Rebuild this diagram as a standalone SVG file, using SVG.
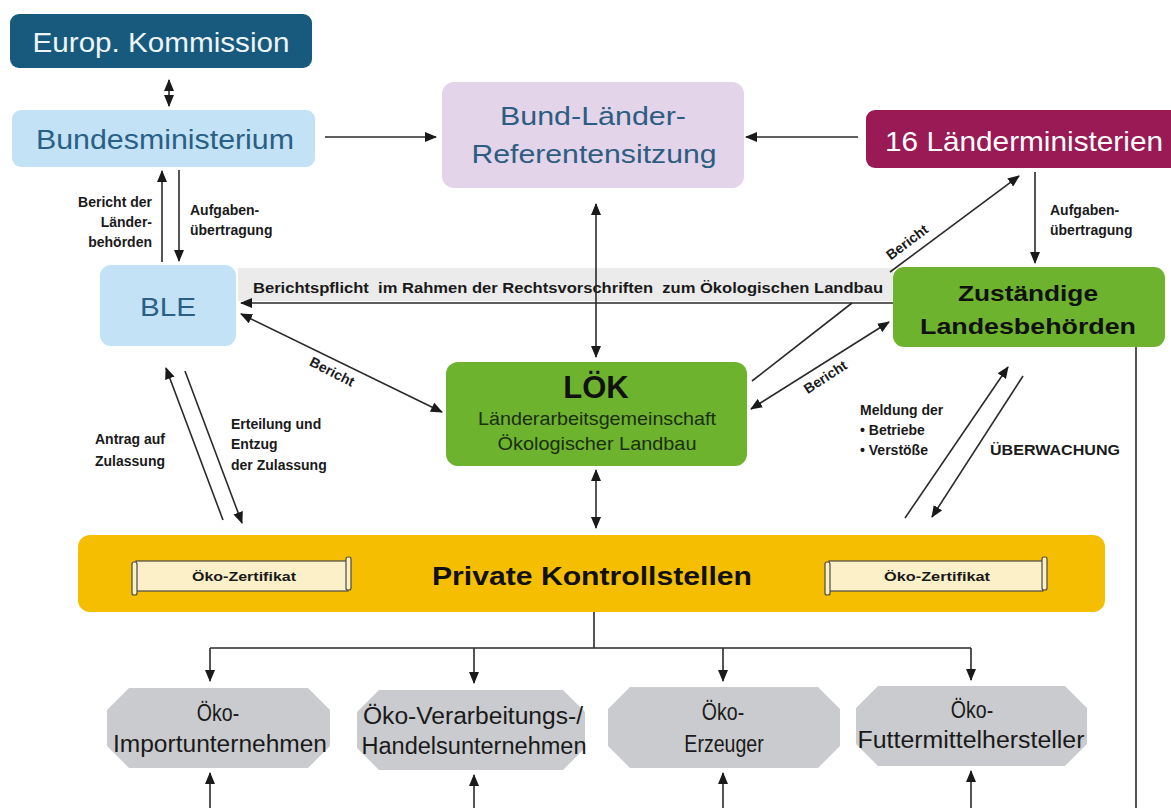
<svg xmlns="http://www.w3.org/2000/svg" width="1171" height="808" viewBox="0 0 1171 808">
<style>
text{font-family:"Liberation Sans",Arial,sans-serif}
.lbl{font-size:14px;font-weight:bold;fill:#1a1a1a}
.c{text-anchor:middle}
.ln{stroke:#2a2a2a;stroke-width:1.6;fill:none}
.hx{fill:#c9cbce}
.hxt{font-size:23px;fill:#1a1a1a;text-anchor:middle}
.sc{fill:#fbf0c8;stroke:#4a4a4a;stroke-width:1.2}
.sct{font-size:13px;font-weight:bold;fill:#1a1a1a;text-anchor:middle}
</style>
<defs>
<marker id="ah" markerUnits="userSpaceOnUse" markerWidth="12" markerHeight="10" refX="11" refY="5" orient="auto-start-reverse">
<path d="M0,0 L12,5 L0,10 z" fill="#1a1a1a"/>
</marker>
</defs>
<rect width="1171" height="808" fill="#ffffff"/>

<g id="band-berichtspflicht">
<rect x="238" y="268" width="655" height="33" fill="#ebebeb"/>
<text class="lbl" x="253" y="293" textLength="630" lengthAdjust="spacingAndGlyphs">Berichtspflicht&#160; im Rahmen der Rechtsvorschriften&#160; zum Ökologischen Landbau</text>
</g>

<g id="europ-kommission">
<rect x="10" y="14" width="302" height="54" rx="9" fill="#175a7d"/>
<text x="161" y="52" class="c" font-size="27" fill="#eef4f8" textLength="257" lengthAdjust="spacingAndGlyphs">Europ. Kommission</text>
</g>

<g id="bundesministerium">
<rect x="12" y="110" width="303" height="57" rx="9" fill="#c4e2f5"/>
<text x="165" y="149" class="c" font-size="27" fill="#2a5f86" textLength="258" lengthAdjust="spacingAndGlyphs">Bundesministerium</text>
</g>

<g id="bund-laender">
<rect x="442" y="82" width="302" height="106" rx="12" fill="#e4d4e9"/>
<text x="593" y="125" class="c" font-size="26" fill="#2d5d82" textLength="186" lengthAdjust="spacingAndGlyphs">Bund-Länder-</text>
<text x="594" y="163" class="c" font-size="26" fill="#2d5d82" textLength="245" lengthAdjust="spacingAndGlyphs">Referentensitzung</text>
</g>

<g id="laenderministerien">
<rect x="866" y="110" width="315" height="58" rx="9" fill="#991a54"/>
<text x="885" y="151" font-size="28" fill="#ffffff" textLength="278" lengthAdjust="spacingAndGlyphs">16 Länderministerien</text>
</g>

<g id="ble">
<rect x="100" y="265" width="136" height="81" rx="11" fill="#c4e2f5"/>
<text x="168" y="316" class="c" font-size="26" fill="#2a5f86" textLength="56" lengthAdjust="spacingAndGlyphs">BLE</text>
</g>

<g id="loek">
<rect x="446" y="362" width="301" height="104" rx="12" fill="#6db32e"/>
<text x="596" y="398" class="c" font-size="31" font-weight="bold" fill="#111">LÖK</text>
<text x="597" y="425" class="c" font-size="19" fill="#1b2e0c" textLength="238" lengthAdjust="spacingAndGlyphs">Länderarbeitsgemeinschaft</text>
<text x="597" y="450" class="c" font-size="19" fill="#1b2e0c" textLength="199" lengthAdjust="spacingAndGlyphs">Ökologischer Landbau</text>
</g>

<g id="landesbehoerden">
<rect x="893" y="267" width="272" height="80" rx="11" fill="#6db32e"/>
<text x="1028" y="301" class="c" font-size="22" font-weight="bold" fill="#111" textLength="140" lengthAdjust="spacingAndGlyphs">Zuständige</text>
<text x="1028" y="334" class="c" font-size="22" font-weight="bold" fill="#111" textLength="216" lengthAdjust="spacingAndGlyphs">Landesbehörden</text>
</g>

<g id="private-kontrollstellen">
<rect x="78" y="535" width="1027" height="77" rx="12" fill="#f6be00"/>
<text x="592" y="585" class="c" font-size="25" font-weight="bold" fill="#111" textLength="320" lengthAdjust="spacingAndGlyphs">Private Kontrollstellen</text>
<g id="zertifikat-links">
<rect class="sc" x="136" y="561" width="212" height="30"/>
<rect class="sc" x="132" y="562" width="5" height="33" rx="2"/>
<rect class="sc" x="346" y="557" width="5" height="33" rx="2"/>
<text class="sct" x="244" y="581" textLength="104" lengthAdjust="spacingAndGlyphs">Öko-Zertifikat</text>
</g>
<g id="zertifikat-rechts">
<rect class="sc" x="829" y="561" width="214" height="30"/>
<rect class="sc" x="825" y="562" width="5" height="33" rx="2"/>
<rect class="sc" x="1042" y="557" width="5" height="33" rx="2"/>
<text class="sct" x="937" y="581" textLength="106" lengthAdjust="spacingAndGlyphs">Öko-Zertifikat</text>
</g>
</g>

<g id="import">
<polygon class="hx" points="129,688 308,688 330,710 330,746 308,768 129,768 107,746 107,710"/>
<text class="hxt" transform="translate(218,721) scale(0.85,1)">Öko-</text>
<text class="hxt" x="220" y="752" textLength="214" lengthAdjust="spacingAndGlyphs">Importunternehmen</text>
</g>
<g id="verarbeitung">
<polygon class="hx" points="379,690 563,690 585,712 585,748 563,770 379,770 357,748 357,712"/>
<text class="hxt" x="473" y="724" textLength="220" lengthAdjust="spacingAndGlyphs">Öko-Verarbeitungs-/</text>
<text class="hxt" x="474" y="754" textLength="225" lengthAdjust="spacingAndGlyphs">Handelsunternehmen</text>
</g>
<g id="erzeuger">
<polygon class="hx" points="630,687 818,687 840,709 840,746 818,768 630,768 608,746 608,709"/>
<text class="hxt" transform="translate(723,720) scale(0.85,1)">Öko-</text>
<text class="hxt" transform="translate(724,752) scale(0.85,1)">Erzeuger</text>
</g>
<g id="futtermittel">
<polygon class="hx" points="878,686 1065,686 1087,708 1087,744 1065,766 878,766 856,744 856,708"/>
<text class="hxt" transform="translate(972,718) scale(0.85,1)">Öko-</text>
<text class="hxt" x="971" y="748" textLength="227" lengthAdjust="spacingAndGlyphs">Futtermittelhersteller</text>
</g>

<g id="connectors">
<line class="ln" x1="169" y1="80" x2="169" y2="106" marker-start="url(#ah)" marker-end="url(#ah)"/>
<line class="ln" x1="325" y1="137" x2="436" y2="137" marker-end="url(#ah)"/>
<line class="ln" x1="858" y1="137" x2="746" y2="137" marker-end="url(#ah)"/>
<line class="ln" x1="162" y1="262" x2="162" y2="171" marker-end="url(#ah)"/>
<line class="ln" x1="179" y1="170" x2="179" y2="261" marker-end="url(#ah)"/>
<line class="ln" x1="596" y1="204" x2="596" y2="357" marker-start="url(#ah)" marker-end="url(#ah)"/>
<line class="ln" x1="893" y1="303" x2="241" y2="303" marker-end="url(#ah)"/>
<line class="ln" x1="241" y1="314" x2="442" y2="412" marker-start="url(#ah)" marker-end="url(#ah)"/>
<line class="ln" x1="752" y1="381" x2="852" y2="303"/>
<line class="ln" x1="751" y1="409" x2="889" y2="322" marker-start="url(#ah)" marker-end="url(#ah)"/>
<line class="ln" x1="890" y1="272" x2="1019" y2="176" marker-end="url(#ah)"/>
<line class="ln" x1="1035" y1="172" x2="1035" y2="263" marker-end="url(#ah)"/>
<line class="ln" x1="1136" y1="347" x2="1136" y2="808"/>
<line class="ln" x1="905" y1="518" x2="1008" y2="367" marker-end="url(#ah)"/>
<line class="ln" x1="1023" y1="376" x2="932" y2="517" marker-end="url(#ah)"/>
<line class="ln" x1="223" y1="520" x2="166" y2="368" marker-end="url(#ah)"/>
<line class="ln" x1="185" y1="371" x2="242" y2="523" marker-end="url(#ah)"/>
<line class="ln" x1="596" y1="470" x2="596" y2="528" marker-start="url(#ah)" marker-end="url(#ah)"/>
<polyline class="ln" points="594,612 594,648"/>
<line class="ln" x1="210" y1="648" x2="971" y2="648"/>
<line class="ln" x1="210" y1="648" x2="210" y2="681" marker-end="url(#ah)"/>
<line class="ln" x1="474" y1="648" x2="474" y2="683" marker-end="url(#ah)"/>
<line class="ln" x1="723" y1="648" x2="723" y2="681" marker-end="url(#ah)"/>
<line class="ln" x1="971" y1="648" x2="971" y2="680" marker-end="url(#ah)"/>
<line class="ln" x1="210" y1="808" x2="210" y2="773" marker-end="url(#ah)"/>
<line class="ln" x1="474" y1="808" x2="474" y2="775" marker-end="url(#ah)"/>
<line class="ln" x1="723" y1="808" x2="723" y2="773" marker-end="url(#ah)"/>
<line class="ln" x1="971" y1="808" x2="971" y2="771" marker-end="url(#ah)"/>
</g>

<g id="labels">
<text class="lbl" x="152" y="207" text-anchor="end">Bericht der</text>
<text class="lbl" x="152" y="227" text-anchor="end">Länder-</text>
<text class="lbl" x="152" y="247" text-anchor="end">behörden</text>
<text class="lbl" x="190" y="215">Aufgaben-</text>
<text class="lbl" x="190" y="235">übertragung</text>
<text class="lbl" x="1050" y="215">Aufgaben-</text>
<text class="lbl" x="1050" y="235">übertragung</text>
<text class="lbl c" transform="translate(330,376) rotate(27)">Bericht</text>
<text class="lbl c" transform="translate(828,381) rotate(-33)">Bericht</text>
<text class="lbl c" transform="translate(910,246) rotate(-37)">Bericht</text>
<text class="lbl" x="95" y="444">Antrag auf</text>
<text class="lbl" x="95" y="466">Zulassung</text>
<text class="lbl" x="231" y="429">Erteilung und</text>
<text class="lbl" x="231" y="449">Entzug</text>
<text class="lbl" x="231" y="470">der Zulassung</text>
<text class="lbl" x="860" y="415">Meldung der</text>
<text class="lbl" x="860" y="435">• Betriebe</text>
<text class="lbl" x="860" y="455">• Verstöße</text>
<text class="lbl" x="990" y="455" textLength="130" lengthAdjust="spacingAndGlyphs">ÜBERWACHUNG</text>
</g>
</svg>
